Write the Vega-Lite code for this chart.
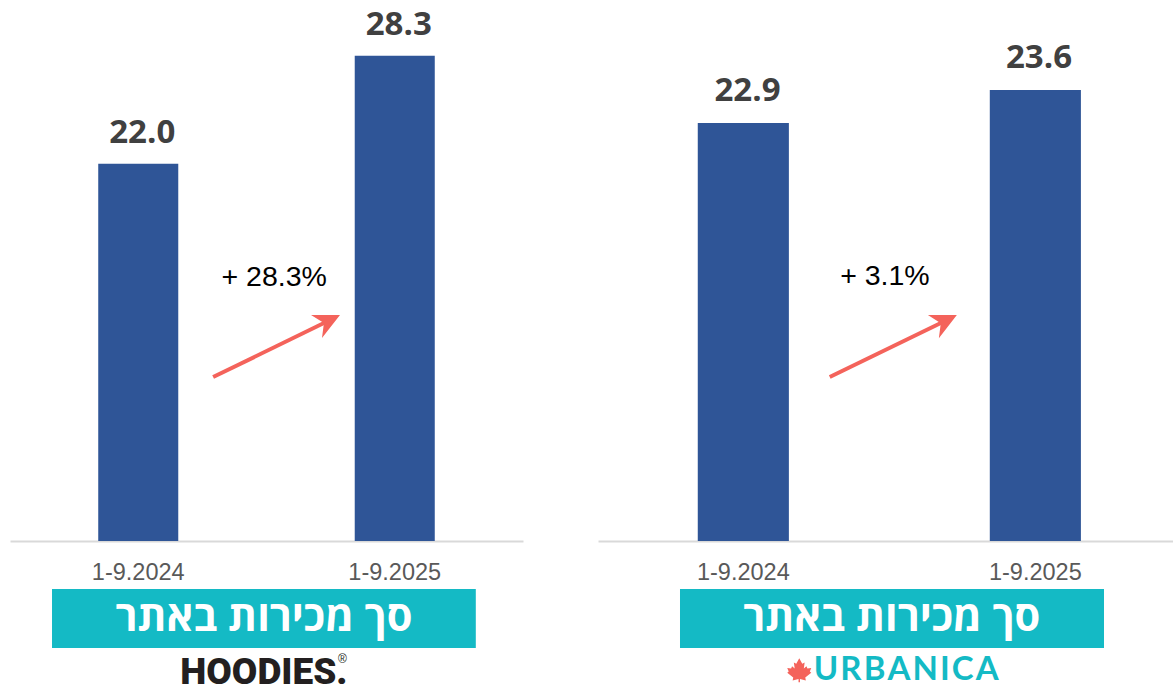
{
"$schema":"https://vega.github.io/schema/vega-lite/v6.json",
"width":1173,"height":687,
"padding":{"left":10,"top":0,"right":0,"bottom":0},
"background":"white",
"autosize":{"type":"pad"},
"config":{"view":{"stroke":null},"concat":{"spacing":0}},
"datasets":{
"hoodies":[{"period":"1-9.2024","sales":22.0},{"period":"1-9.2025","sales":28.3}],
"urbanica":[{"period":"1-9.2024","sales":22.9},{"period":"1-9.2025","sales":23.6}],
"one":[{"note":"annotation"}]
},
"hconcat":[
{"spacing":5,"vconcat":[
{"width":513,"height":541,
"resolve":{"scale":{"x":"independent"}},
"layer":[
{"data":{"name":"hoodies"},"mark":{"type":"bar","color":"#2F5597"},
"encoding":{"x":{"field":"period","type":"nominal","title":null,"scale":{"paddingInner":0.688,"paddingOuter":0.344},"axis":{"labelAngle":0,"labelFont":"Liberation Sans","labelFontSize":23.5,"labelColor":"#595959","labelPadding":19,"ticks":false,"domainColor":"#D9D9D9","domainWidth":2}},
"y":{"field":"sales","type":"quantitative","scale":{"domain":[0,31.55],"nice":false},"axis":null}}},
{"data":{"name":"hoodies"},"mark":{"type":"text","font":"Open Sans","fontWeight":"bold","fontSize":33,"color":"#404040","baseline":"alphabetic","dy":-21,"dx":4},
"encoding":{"x":{"field":"period","type":"nominal","title":null,"scale":{"paddingInner":0.688,"paddingOuter":0.344},"axis":null},
"y":{"field":"sales","type":"quantitative","scale":{"domain":[0,31.55],"nice":false},"axis":null},"text":{"field":"sales","type":"quantitative","format":".1f"}}},
{"data":{"name":"one"},"mark":{"type":"rule","color":"#F4635B","strokeWidth":4},
"encoding":{"x":{"datum":0.396,"type":"quantitative","scale":{"domain":[0,1]},"axis":null},"x2":{"datum":0.624},"y":{"datum":9.56,"type":"quantitative","scale":{"domain":[0,31.55],"nice":false},"axis":null},"y2":{"datum":12.89}}},
{"data":{"name":"one"},"mark":{"type":"point","filled":true,"opacity":1,"color":"#F4635B","size":900,"shape":"M1,-0.77L-0.93,-0.77L-0.07,-0.23L-0.2,0.77Z"},
"encoding":{"x":{"datum":0.614,"type":"quantitative","scale":{"domain":[0,1]},"axis":null},"y":{"datum":12.51,"type":"quantitative","scale":{"domain":[0,31.55],"nice":false},"axis":null}}},
{"data":{"name":"one"},"mark":{"type":"text","font":"Liberation Sans","fontSize":28.5,"color":"#000000","text":"+ 28.3%"},
"encoding":{"x":{"datum":0.515,"type":"quantitative","scale":{"domain":[0,1]},"axis":null},"y":{"datum":15.39,"type":"quantitative","scale":{"domain":[0,31.55],"nice":false},"axis":null}}}
]},
{"width":513,"height":98,"data":{"name":"one"},
"layer":[
{"mark":{"type":"rect","color":"#14BAC5"},"encoding":{"x":{"datum":0.0819,"type":"quantitative","scale":{"domain":[0,1]},"axis":null},"x2":{"datum":0.908},"y":{"datum":0,"type":"quantitative","scale":{"domain":[0,1],"reverse":true},"axis":null},"y2":{"datum":0.602}}},
{"mark":{"type":"text","font":"Open Sans","fontWeight":"bold","fontSize":41.5,"color":"white","text":"סך מכירות באתר"},"encoding":{"x":{"datum":0.495,"type":"quantitative"},"y":{"datum":0.31,"type":"quantitative"}}},
{"mark":{"type":"text","font":"Roboto","fontWeight":900,"fontSize":37,"color":"#231F20","text":"HOODIES."},"encoding":{"x":{"datum":0.495,"type":"quantitative"},"y":{"datum":0.855,"type":"quantitative"}}},
{"mark":{"type":"text","font":"Liberation Sans","fontSize":12,"color":"#231F20","text":"®"},"encoding":{"x":{"datum":0.648,"type":"quantitative"},"y":{"datum":0.71,"type":"quantitative"}}}
]}
]},
{"spacing":5,"vconcat":[
{"width":575,"height":541,
"resolve":{"scale":{"x":"independent"}},
"layer":[
{"data":{"name":"urbanica"},"mark":{"type":"bar","color":"#2F5597"},
"encoding":{"x":{"field":"period","type":"nominal","title":null,"scale":{"paddingInner":0.688,"paddingOuter":0.3285,"align":0.52},"axis":{"labelAngle":0,"labelFont":"Liberation Sans","labelFontSize":23.5,"labelColor":"#595959","labelPadding":19,"ticks":false,"domainColor":"#D9D9D9","domainWidth":2}},
"y":{"field":"sales","type":"quantitative","scale":{"domain":[14.03,25.51],"zero":false,"nice":false},"axis":null},"y2":{"datum":14.03}}},
{"data":{"name":"urbanica"},"transform":[{"filter":"datum.period === '1-9.2024'"}],"mark":{"type":"text","font":"Open Sans","fontWeight":"bold","fontSize":33,"color":"#404040","baseline":"alphabetic","dy":-22},
"encoding":{"x":{"field":"period","type":"nominal","title":null,"scale":{"domain":["1-9.2024","1-9.2025"],"paddingInner":0.688,"paddingOuter":0.3285,"align":0.52},"axis":null},
"y":{"field":"sales","type":"quantitative","scale":{"domain":[14.03,25.51],"zero":false,"nice":false},"axis":null},"text":{"field":"sales","type":"quantitative","format":".1f"}}},
{"data":{"name":"urbanica"},"transform":[{"filter":"datum.period === '1-9.2025'"}],"mark":{"type":"text","font":"Open Sans","fontWeight":"bold","fontSize":33,"color":"#404040","baseline":"alphabetic","dy":-22,"dx":4},
"encoding":{"x":{"field":"period","type":"nominal","title":null,"scale":{"domain":["1-9.2024","1-9.2025"],"paddingInner":0.688,"paddingOuter":0.3285,"align":0.52},"axis":null},
"y":{"field":"sales","type":"quantitative","scale":{"domain":[14.03,25.51],"zero":false,"nice":false},"axis":null},"text":{"field":"sales","type":"quantitative","format":".1f"}}},
{"data":{"name":"one"},"mark":{"type":"rule","color":"#F4635B","strokeWidth":4},
"encoding":{"x":{"datum":0.403,"type":"quantitative","scale":{"domain":[0,1]},"axis":null},"x2":{"datum":0.607},"y":{"datum":17.51,"type":"quantitative","scale":{"domain":[14.03,25.51],"zero":false,"nice":false},"axis":null},"y2":{"datum":18.72}}},
{"data":{"name":"one"},"mark":{"type":"point","filled":true,"opacity":1,"color":"#F4635B","size":900,"shape":"M1,-0.77L-0.93,-0.77L-0.07,-0.23L-0.2,0.77Z"},
"encoding":{"x":{"datum":0.598,"type":"quantitative","scale":{"domain":[0,1]},"axis":null},"y":{"datum":18.58,"type":"quantitative","scale":{"domain":[14.03,25.51],"zero":false,"nice":false},"axis":null}}},
{"data":{"name":"one"},"mark":{"type":"text","font":"Liberation Sans","fontSize":28.5,"color":"#000000","text":"+ 3.1%"},
"encoding":{"x":{"datum":0.499,"type":"quantitative","scale":{"domain":[0,1]},"axis":null},"y":{"datum":19.65,"type":"quantitative","scale":{"domain":[14.03,25.51],"zero":false,"nice":false},"axis":null}}}
]},
{"width":575,"height":98,"data":{"name":"one"},
"layer":[
{"mark":{"type":"rect","color":"#14BAC5"},"encoding":{"x":{"datum":0.1426,"type":"quantitative","scale":{"domain":[0,1]},"axis":null},"x2":{"datum":0.88},"y":{"datum":0,"type":"quantitative","scale":{"domain":[0,1],"reverse":true},"axis":null},"y2":{"datum":0.602}}},
{"mark":{"type":"text","font":"Open Sans","fontWeight":"bold","fontSize":41.5,"color":"white","text":"סך מכירות באתר"},"encoding":{"x":{"datum":0.511,"type":"quantitative"},"y":{"datum":0.31,"type":"quantitative"}}},
{"mark":{"type":"text","font":"Lato","fontWeight":"bold","fontSize":33,"color":"#14BAC5","text":"U\u200aR\u200aB\u200aA\u200aN\u200aI\u200aC\u200aA"},"encoding":{"x":{"datum":0.536,"type":"quantitative"},"y":{"datum":0.83,"type":"quantitative"}}},
{"mark":{"type":"point","filled":true,"opacity":1,"color":"#F4635B","size":576,"shape":"M0,-1L.25,-.55L.45,-.65L.38,-.15L.6,-.35L.68,-.15L1,-.2L.88,.1L1,.2L.5,.6L.55,.85L.06,.72L.06,1L-.06,1L-.06,.72L-.55,.85L-.5,.6L-1,.2L-.88,.1L-1,-.2L-.68,-.15L-.6,-.35L-.38,-.15L-.45,-.65L-.25,-.55Z"},"encoding":{"x":{"datum":0.35,"type":"quantitative"},"y":{"datum":0.83,"type":"quantitative"}}}
]}
]}
],
"spacing":75
}
